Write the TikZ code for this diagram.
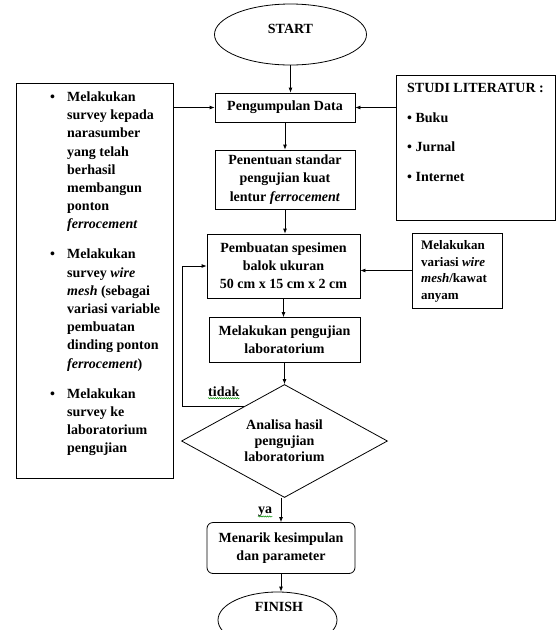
\documentclass[tikz,border=0pt]{standalone}
\usepackage{fontspec}
\setmainfont{Liberation Serif}
\usetikzlibrary{shapes.geometric,arrows.meta,decorations.pathmorphing}
\begin{document}
\begin{tikzpicture}[x=1pt,y=-1pt,
  every node/.style={font=\fontsize{14}{18.2}\selectfont\bfseries},
  box/.style={draw, line width=0.8pt, align=center, inner sep=0pt},
  frame/.style={draw, line width=0.8pt, inner sep=0pt, anchor=north west},
  txt/.style={inner sep=0pt, anchor=base west},
  arr/.style={-{Latex[length=5pt,width=4pt]}, line width=0.8pt},
  sq/.style={green!55!black, line width=0.5pt, decorate, decoration={snake,amplitude=0.6pt,segment length=2.2pt}}]
\useasboundingbox (0,0) rectangle (556,630);

% main flow
\node[box, ellipse, minimum width=152pt, minimum height=61pt] (start) at (290.5,34.5) {};
\node[inner sep=0pt] (startt) at ([yshift=6pt]start.center) {START};
\node[box, minimum width=140pt, minimum height=29pt] (pd) at (285,107.5) {Pengumpulan Data};
\node[box, minimum width=140pt, minimum height=59pt] (pen) at (285,179.5) {Penentuan standar\\pengujian kuat\\lentur \textit{ferrocement}};
\node[box, minimum width=153pt, minimum height=64pt] (pem) at (283.5,266) {Pembuatan spesimen\\balok ukuran\\50 cm x 15 cm x 2 cm};
\node[box, minimum width=151pt, minimum height=45pt] (lab) at (284.5,340) {Melakukan pengujian\\laboratorium};
\node[box, diamond, aspect=1.82, minimum width=206pt, minimum height=113pt, font=\fontsize{14}{16}\selectfont\bfseries] (dia) at (284.5,441) {Analisa hasil\\pengujian\\laboratorium};
\node[box, rounded corners=6pt, minimum width=148pt, minimum height=51pt] (men) at (281,548) {Menarik kesimpulan\\dan parameter};
\node[box, ellipse, minimum width=119pt, minimum height=56pt] (fin) at (277.5,620) {};
\node[inner sep=0pt] (fint) at (279,607) {FINISH};

% left survey box
\node[frame, minimum width=157pt, minimum height=395pt] (sur) at (16,83) {};
\node[txt] (surt) at (50,101.5) {\begin{tabular}[t]{@{}p{17pt}@{}l@{}}
\textbullet & Melakukan\\
 & survey kepada\\
 & narasumber\\
 & yang telah\\
 & berhasil\\
 & membangun\\
 & ponton\\
 & \textit{ferrocement}\\[11.8pt]
\textbullet & Melakukan\\
 & survey \textit{wire}\\
 & \textit{mesh} (sebagai\\
 & variasi variable\\
 & pembuatan\\
 & dinding ponton\\
 & \textit{ferrocement})\\[11.8pt]
\textbullet & Melakukan\\
 & survey ke\\
 & laboratorium\\
 & pengujian
\end{tabular}};

% right literature box
\node[frame, minimum width=158.5pt, minimum height=145pt] (stu) at (396,75) {};
\node[txt, font=\fontsize{14}{29.5}\selectfont\bfseries] (stut) at (407,92.7) {\begin{tabular}[t]{@{}l@{}}
STUDI LITERATUR :\\
\textbullet{} Buku\\
\textbullet{} Jurnal\\
\textbullet{} Internet
\end{tabular}};

% variation box
\node[box, minimum width=90pt, minimum height=75pt] (var) at (457,270.5) {};
\node[txt, font=\fontsize{13}{16.7}\selectfont\bfseries] (vart) at (421,249.3) {\begin{tabular}[t]{@{}l@{}}
Melakukan\\
variasi \textit{wire}\\
\textit{mesh}/kawat\\
anyam
\end{tabular}};

% labels
\node[txt] (tidak) at (208,396) {tidak};
\node[txt] (ya) at (258,513) {ya};
\draw[sq] ([yshift=-2.2pt]tidak.base west) -- ([yshift=-2.2pt]tidak.base east);
\draw[sq] ([yshift=-3.5pt]ya.base west) -- ([yshift=-3.5pt]ya.base east);

% connectors
\draw[arr] (start.south) -- (start.south |- pd.north);
\draw[arr] (pd.south) -- (pen.north);
\draw[arr] (pen.south) -- (pen.south |- pem.north);
\draw[arr] (pem.south) -- (pem.south |- lab.north);
\draw[arr] (lab.south) -- (dia.north);
\draw[arr] (dia.south -| men.north) -- (men.north);
\draw[arr] (men.south) -- (men.south |- fin.north);
\draw[arr] (sur.east |- pd.west) -- (pd.west);
\draw[arr] (stu.west |- pd.east) -- (pd.east);
\draw[arr] (var.west) -- (var.west -| pem.east);
\coordinate (fbx) at (182,407);
\draw[arr] (dia.140) -- (dia.140 -| fbx) -- (fbx |- pem.west) -- (pem.west);
\end{tikzpicture}
\end{document}
